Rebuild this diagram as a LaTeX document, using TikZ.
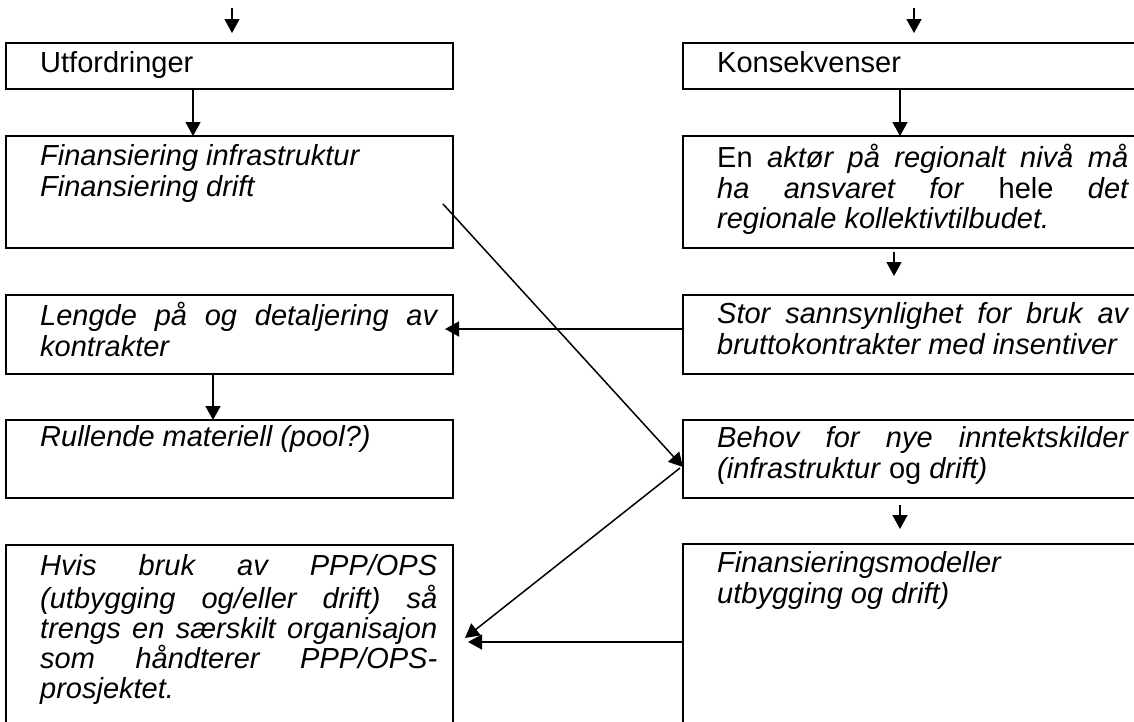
\documentclass[tikz,border=0pt]{standalone}
\usepackage{fontspec}
\setmainfont{Liberation Sans}
\usetikzlibrary{calc}
\usetikzlibrary{arrows.meta}
\setlength{\parindent}{0pt}
\hyphenpenalty=10000
\tolerance=10000

\begin{document}
\begin{tikzpicture}[x=1pt,y=-1pt,
  box/.style={draw,line width=2.2pt,inner sep=0pt,outer sep=0pt,anchor=north west},
  lbox/.style={box,minimum width=447pt},
  rbox/.style={box,minimum width=480pt},
  txt/.style={inner sep=0pt,anchor=north west,align=justify,text width=#1,
    font=\fontsize{29}{30}\selectfont,execute at begin node=\strut},
  arr/.style={line width=1.5pt,-{Triangle[length=14pt,width=15pt]}}]

\useasboundingbox (0,0) rectangle (1134,721);
\clip (0,0) rectangle (1134,721);

% left column
\node[lbox,minimum height=46pt] (utf) at (6,43) {};
\node[lbox,minimum height=112pt] (fin) at (6,136) {};
\node[lbox,minimum height=79pt] (leng) at (6,295) {};
\node[lbox,minimum height=78pt] (rull) at (6,420) {};
\node[lbox,minimum height=220pt] (hvis) at (6,545) {};

% right column
\node[rbox,minimum height=46pt] (kons) at (683,43) {};
\node[rbox,minimum height=112pt] (akt) at (683,136) {};
\node[rbox,minimum height=79pt] (stor) at (683,295) {};
\node[rbox,minimum height=78pt] (beh) at (683,420) {};
\node[rbox,minimum height=220pt] (mod) at (683,544) {};

% texts
\node[txt=397pt] (utfT) at ([xshift=34pt,yshift=-8pt]utf.north west) {Utfordringer};
\node[txt=397pt] (finT) at ([xshift=34pt,yshift=-8pt]fin.north west)
  {\textit{Finansiering infrastruktur}\\ \textit{Finansiering drift}};
\node[txt=397pt] (lengT) at ([xshift=34pt,yshift=-7pt]leng.north west)
  {\textit{Lengde på og detaljering av\linebreak kontrakter}};
\node[txt=397pt] (rullT) at ([xshift=34pt,yshift=-5pt]rull.north west)
  {\textit{Rullende materiell (pool?)}};
\node[txt=397pt] (hvisT) at ([xshift=34pt,yshift=-9pt]hvis.north west)
  {\textit{Hvis bruk av PPP/OPS\linebreak (utbygging og/eller drift) så\linebreak
   trengs en særskilt organisajon\linebreak som håndterer PPP/OPS-\linebreak prosjektet.}};

\node[txt=411pt] (konsT) at ([xshift=34pt,yshift=-8pt]kons.north west) {Konsekvenser};
\node[txt=411pt] (aktT) at ([xshift=34pt,yshift=-8pt]akt.north west)
  {En \textit{aktør på regionalt nivå må\linebreak ha ansvaret for} hele \textit{det\linebreak
   regionale kollektivtilbudet.}};
\node[txt=411pt] (storT) at ([xshift=34pt,yshift=-7pt]stor.north west)
  {\textit{Stor sannsynlighet for bruk av\linebreak bruttokontrakter med insentiver}};
\node[txt=411pt] (behT) at ([xshift=34pt,yshift=-6pt]beh.north west)
  {\textit{Behov for nye inntektskilder\linebreak (infrastruktur} og \textit{drift)}};
\node[txt=411pt] (modT) at ([xshift=34pt,yshift=-7pt]mod.north west)
  {\textit{Finansieringsmodeller\\ utbygging og drift)}};

% incoming arrows
\coordinate (inL) at (232,8);
\coordinate (inR) at (914,8);
\draw[arr,shorten >=10pt] (inL) -- (inL |- utf.north);
\draw[arr,shorten >=10pt] (inR) -- (inR |- kons.north);

% vertical arrows
\draw[arr] ([xshift=-36.5pt]utf.south) -- ([xshift=-36.5pt]fin.north);
\draw[arr] ([xshift=-16.5pt]leng.south) -- ([xshift=-16.5pt]rull.north);
\draw[arr] ([xshift=-23pt]kons.south) -- ([xshift=-23pt]akt.north);
\draw[arr,shorten <=4pt,shorten >=19pt] ([xshift=-29pt]akt.south) -- ([xshift=-29pt]stor.north);
\draw[arr,shorten <=7pt,shorten >=15pt] ([xshift=-23pt]beh.south) -- ([xshift=-23pt]mod.north);

% cross arrows
\draw[arr,shorten >=-8pt] ([yshift=5.5pt]stor.west) -- ([yshift=5.5pt]leng.east);
\draw[arr] ([xshift=-10pt,yshift=-12pt]fin.east) -- ([yshift=-8pt]beh.west);
\draw[arr] ([xshift=-3pt,yshift=-9pt]beh.west) -- ([xshift=12pt,yshift=17pt]hvis.east);
\draw[arr] ([yshift=12pt]mod.west) -- ([xshift=15pt,yshift=13pt]hvis.east);

\end{tikzpicture}
\end{document}
